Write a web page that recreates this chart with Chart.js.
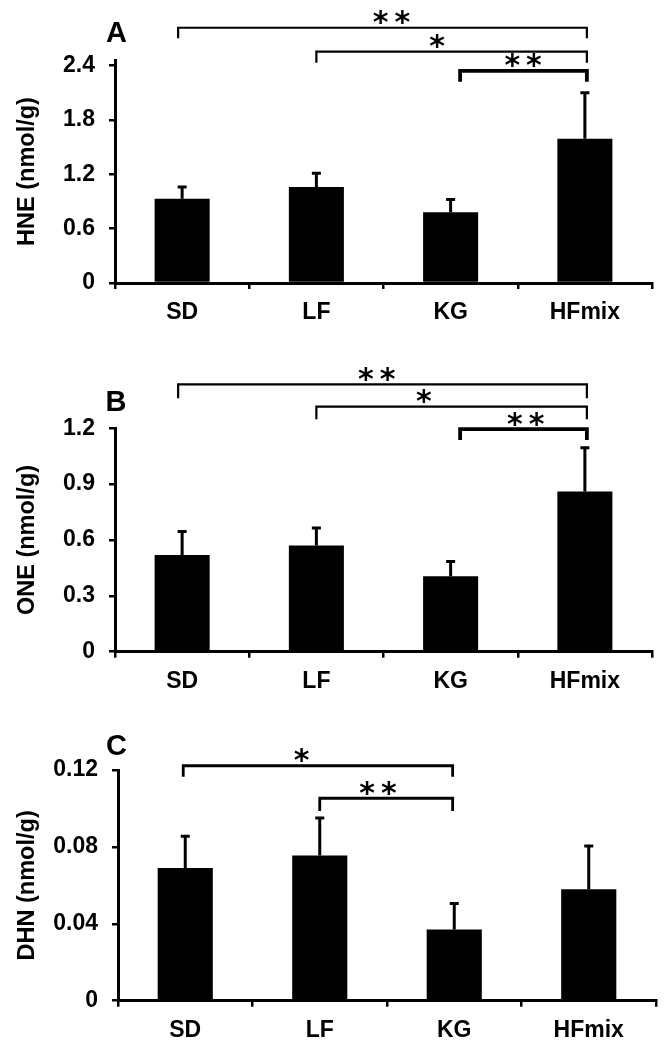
<!DOCTYPE html>
<html>
<head>
<meta charset="utf-8">
<script src="https://cdn.jsdelivr.net/npm/chart.js@4.4.1/dist/chart.umd.min.js"></script>
<style>
  html, body { margin: 0; padding: 0; background: #fff; }
  #wrap { position: relative; width: 667px; height: 1048px; overflow: hidden; }
  canvas { position: absolute; left: 0; }
</style>
</head>
<body>
<div id="wrap">
  <canvas id="chartA" width="667" height="345" style="top:0"></canvas>
  <canvas id="chartB" width="667" height="355" style="top:340px"></canvas>
  <canvas id="chartC" width="667" height="358" style="top:690px"></canvas>
</div>
<script>
const groups = ['SD', 'LF', 'KG', 'HFmix'];

// HNE panel
const hneMean = [0.93, 1.06, 0.78, 1.59];
const hneSem = [0.13, 0.15, 0.14, 0.51];
const hneTicks = [0, 0.6, 1.2, 1.8, 2.4];

// ONE panel
const oneMean = [0.52, 0.57, 0.405, 0.86];
const oneSem = [0.125, 0.095, 0.08, 0.235];
const oneTicks = [0, 0.3, 0.6, 0.9, 1.2];

// DHN panel
const dhnMean = [0.069, 0.0755, 0.037, 0.058];
const dhnSem = [0.0165, 0.0195, 0.0135, 0.0225];
const dhnTicks = [0, 0.04, 0.08, 0.12];

// significance: [from group, to group, label]
const hneSig = [[0, 3, '**'], [1, 3, '*'], [2, 3, '**']];
const oneSig = [[0, 3, '**'], [1, 3, '*'], [2, 3, '**']];
const dhnSig = [[0, 2, '*'], [1, 2, '**']];

const FONT = '"Liberation Sans", Arial, sans-serif';

// draws error bars, significance brackets and the panel letter
const annotate = {
  id: 'annotate',
  afterDatasetsDraw(chart, args, o) {
    const ctx = chart.ctx;
    const x = chart.scales.x;
    const y = chart.scales.y;
    const vals = chart.data.datasets[0].data;
    ctx.save();
    ctx.strokeStyle = '#000';
    ctx.fillStyle = '#000';
    ctx.lineCap = 'butt';
    ctx.lineJoin = 'miter';

    ctx.lineWidth = 3;
    vals.forEach((v, i) => {
      const cx = x.getPixelForValue(i);
      const y0 = y.getPixelForValue(v);
      const y1 = y.getPixelForValue(v + o.sem[i]);
      ctx.beginPath();
      ctx.moveTo(cx, y0);
      ctx.lineTo(cx, y1);
      ctx.moveTo(cx - 4.5, y1);
      ctx.lineTo(cx + 4.5, y1);
      ctx.stroke();
    });

    o.sig.forEach(([a, b, label], k) => {
      const br = o.brackets[k];
      const xa = x.getPixelForValue(a) + o.legShift[a];
      const xb = x.getPixelForValue(b) + o.legShift[b];
      const yl = y.getPixelForValue(br.level);
      const yd = y.getPixelForValue(br.drop);
      ctx.lineWidth = br.lw;
      ctx.beginPath();
      ctx.moveTo(xa, yd);
      ctx.lineTo(xa, yl);
      ctx.lineTo(xb, yl);
      ctx.lineTo(xb, yd);
      ctx.stroke();

      ctx.font = 'bold 30px "DejaVu Sans", sans-serif';
      ctx.textAlign = 'center';
      ctx.textBaseline = 'alphabetic';
      const txt = label.split('').join('\u2009');
      const m = ctx.measureText(txt);
      const mid = (m.actualBoundingBoxAscent - m.actualBoundingBoxDescent) / 2;
      const sx = x.getPixelForValue(0) + (x.getPixelForValue(1) - x.getPixelForValue(0)) * br.at;
      ctx.fillText(txt, sx, yl - 10 + mid);
    });

    ctx.font = 'bold 29px ' + FONT;
    ctx.textAlign = 'center';
    ctx.textBaseline = 'middle';
    ctx.fillText(o.letter, o.letterPos[0], o.letterPos[1]);
    ctx.restore();
  }
};

function makePanel(id, p) {
  const canvas = document.getElementById(id);
  return new Chart(canvas, {
    type: 'bar',
    data: {
      labels: groups,
      datasets: [{
        data: p.mean,
        backgroundColor: '#000',
        borderWidth: 0,
        barPercentage: 0.41,
        categoryPercentage: 1
      }]
    },
    options: {
      responsive: false,
      animation: false,
      layout: { padding: { top: p.top, right: 667 - p.right, left: 0, bottom: 0 } },
      plugins: {
        legend: { display: false },
        tooltip: { enabled: false },
        annotate: {
          sem: p.sem, sig: p.sig, brackets: p.brackets, legShift: p.legShift,
          letter: p.letter, letterPos: p.letterPos
        }
      },
      scales: {
        x: {
          grid: { offset: true, drawOnChartArea: false, color: '#000', lineWidth: 2.5, tickLength: 6 },
          border: { color: '#000', width: 3 },
          ticks: { color: '#000', font: { family: FONT, size: 23, weight: 'bold' }, padding: 10 },
          afterFit: (s) => { s.height = canvas.height - p.bottom; }
        },
        y: {
          min: 0,
          max: p.max,
          afterBuildTicks: (s) => { s.ticks = p.ticks.map((v) => ({ value: v })); },
          grid: { drawOnChartArea: false, color: '#000', lineWidth: 2.5, tickLength: 6 },
          border: { color: '#000', width: 3 },
          ticks: { color: '#000', font: { family: FONT, size: 23, weight: 'bold' }, padding: 14, callback: (v) => String(v) },
          title: { display: true, text: p.title, color: '#000', font: { family: FONT, size: 23.5, weight: 'bold' }, padding: { top: 13 } },
          afterFit: (s) => { s.width = p.left; }
        }
      }
    },
    plugins: [annotate]
  });
}

makePanel('chartA', {
  mean: hneMean, sem: hneSem, ticks: hneTicks, max: 2.46, sig: hneSig,
  title: 'HNE (nmol/g)', letter: 'A', letterPos: [116.5, 34],
  top: 60, bottom: 283, left: 115, right: 652,
  legShift: [-4, 0, 9.5, 2],
  brackets: [
    { level: 2.816, drop: 2.70, at: 1.56, lw: 2.2 },
    { level: 2.552, drop: 2.43, at: 1.90, lw: 2.2 },
    { level: 2.339, drop: 2.221, at: 2.54, lw: 3.8 }
  ]
});

makePanel('chartB', {
  mean: oneMean, sem: oneSem, ticks: oneTicks, max: 1.2, sig: oneSig,
  title: 'ONE (nmol/g)', letter: 'B', letterPos: [116, 63],
  top: 88.3, bottom: 311.7, left: 115, right: 652,
  legShift: [-4, 0, 9.5, 2],
  brackets: [
    { level: 1.436, drop: 1.361, at: 1.45, lw: 2.2 },
    { level: 1.316, drop: 1.248, at: 1.80, lw: 2.2 },
    { level: 1.196, drop: 1.137, at: 2.56, lw: 3.8 }
  ]
});

makePanel('chartC', {
  mean: dhnMean, sem: dhnSem, ticks: dhnTicks, max: 0.12, sig: dhnSig,
  title: 'DHN (nmol/g)', letter: 'C', letterPos: [116.5, 57],
  top: 80, bottom: 310.7, left: 118, right: 656,
  legShift: [-2, 0, -1.6, 0],
  brackets: [
    { level: 0.1222, drop: 0.1165, at: 0.865, lw: 2.8 },
    { level: 0.1053, drop: 0.0987, at: 1.433, lw: 2.8 }
  ]
});
</script>
</body>
</html>
